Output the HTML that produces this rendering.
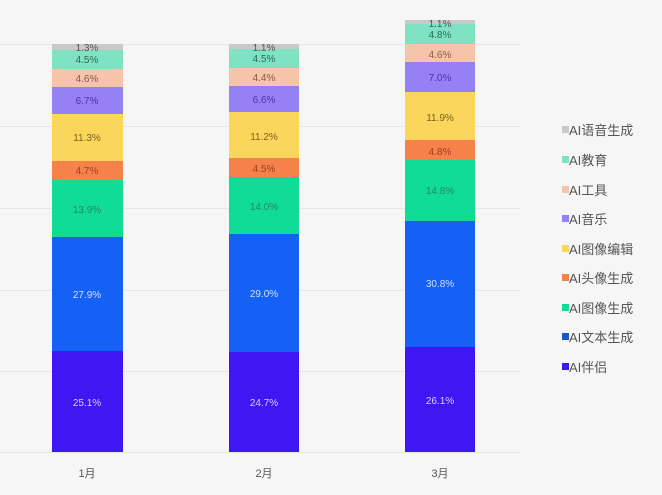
<!DOCTYPE html><html><head><meta charset="utf-8"><style>
body{margin:0;background:#f6f6f6;width:662px;height:490px;overflow:hidden;font-family:"Liberation Sans","Noto Sans CJK SC",sans-serif}
</style></head><body>
<svg width="662" height="490" xmlns="http://www.w3.org/2000/svg" font-family="Liberation Sans, Noto Sans CJK SC, sans-serif">
<rect width="662" height="490" fill="#f6f6f6"/>
<g stroke="#e6e6e6" stroke-width="1">
<line x1="0" x2="520" y1="44.5" y2="44.5"/><line x1="0" x2="520" y1="126.5" y2="126.5"/><line x1="0" x2="520" y1="208.5" y2="208.5"/><line x1="0" x2="520" y1="290.5" y2="290.5"/><line x1="0" x2="520" y1="371.5" y2="371.5"/><line x1="0" x2="520" y1="452.5" y2="452.5"/>
</g>
<g font-size="10" text-anchor="middle">
<rect x="52" y="44" width="71" height="6" fill="#c9c9c9"/>
<rect x="52" y="50" width="71" height="19" fill="#7fe2c2"/>
<rect x="52" y="69" width="71" height="18" fill="#f6c4aa"/>
<rect x="52" y="87" width="71" height="27" fill="#9580f5"/>
<rect x="52" y="114" width="71" height="47" fill="#fbd65c"/>
<rect x="52" y="161" width="71" height="19" fill="#f5814b"/>
<rect x="52" y="180" width="71" height="57" fill="#10dc98"/>
<rect x="52" y="237" width="71" height="114" fill="#1560f5"/>
<rect x="52" y="351" width="71" height="101" fill="#3e17f2"/>
<text x="87" y="51" fill="#555">1.3%</text><text x="87" y="63" fill="#2a6a55">4.5%</text><text x="87" y="82" fill="#8a5a45">4.6%</text><text x="87" y="104" fill="#4a35b0">6.7%</text><text x="87" y="141" fill="#7a6020">11.3%</text><text x="87" y="174" fill="#a04020">4.7%</text><text x="87" y="213" fill="#208a65">13.9%</text><text x="87" y="298" fill="#cfe0ff">27.9%</text><text x="87" y="406" fill="#d8d0ff">25.1%</text>
<rect x="229" y="44" width="70" height="5" fill="#c9c9c9"/>
<rect x="229" y="49" width="70" height="19" fill="#7fe2c2"/>
<rect x="229" y="68" width="70" height="18" fill="#f6c4aa"/>
<rect x="229" y="86" width="70" height="26" fill="#9580f5"/>
<rect x="229" y="112" width="70" height="46" fill="#fbd65c"/>
<rect x="229" y="158" width="70" height="19" fill="#f5814b"/>
<rect x="229" y="177" width="70" height="57" fill="#10dc98"/>
<rect x="229" y="234" width="70" height="118" fill="#1560f5"/>
<rect x="229" y="352" width="70" height="100" fill="#3e17f2"/>
<text x="264" y="51" fill="#555">1.1%</text><text x="264" y="62" fill="#2a6a55">4.5%</text><text x="264" y="81" fill="#8a5a45">4.4%</text><text x="264" y="103" fill="#4a35b0">6.6%</text><text x="264" y="140" fill="#7a6020">11.2%</text><text x="264" y="172" fill="#a04020">4.5%</text><text x="264" y="210" fill="#208a65">14.0%</text><text x="264" y="297" fill="#cfe0ff">29.0%</text><text x="264" y="406" fill="#d8d0ff">24.7%</text>
<rect x="405" y="20" width="70" height="4" fill="#c9c9c9"/>
<rect x="405" y="24" width="70" height="20" fill="#7fe2c2"/>
<rect x="405" y="44" width="70" height="18" fill="#f6c4aa"/>
<rect x="405" y="62" width="70" height="30" fill="#9580f5"/>
<rect x="405" y="92" width="70" height="48" fill="#fbd65c"/>
<rect x="405" y="140" width="70" height="20" fill="#f5814b"/>
<rect x="405" y="160" width="70" height="61" fill="#10dc98"/>
<rect x="405" y="221" width="70" height="126" fill="#1560f5"/>
<rect x="405" y="347" width="70" height="105" fill="#3e17f2"/>
<text x="440" y="27" fill="#555">1.1%</text><text x="440" y="38" fill="#2a6a55">4.8%</text><text x="440" y="58" fill="#8a5a45">4.6%</text><text x="440" y="81" fill="#4a35b0">7.0%</text><text x="440" y="121" fill="#7a6020">11.9%</text><text x="440" y="155" fill="#a04020">4.8%</text><text x="440" y="194" fill="#208a65">14.8%</text><text x="440" y="287" fill="#cfe0ff">30.8%</text><text x="440" y="404" fill="#d8d0ff">26.1%</text>
</g>
<g font-size="11" fill="#555" text-anchor="middle">
<text x="87" y="477">1月</text><text x="264" y="477">2月</text><text x="440" y="477">3月</text>
</g>
<g font-size="13" fill="#555">
<rect x="562" y="126" width="7" height="7" fill="#c9c9c9"/><text x="569" y="135">AI语音生成</text>
<rect x="562" y="156" width="7" height="7" fill="#7fe2c2"/><text x="569" y="165">AI教育</text>
<rect x="562" y="186" width="7" height="7" fill="#f6c4aa"/><text x="569" y="195">AI工具</text>
<rect x="562" y="215" width="7" height="7" fill="#9580f5"/><text x="569" y="224">AI音乐</text>
<rect x="562" y="245" width="7" height="7" fill="#fbd65c"/><text x="569" y="254">AI图像编辑</text>
<rect x="562" y="274" width="7" height="7" fill="#f5814b"/><text x="569" y="283">AI头像生成</text>
<rect x="562" y="304" width="7" height="7" fill="#10dc98"/><text x="569" y="313">AI图像生成</text>
<rect x="562" y="333" width="7" height="7" fill="#1f55c8"/><text x="569" y="342">AI文本生成</text>
<rect x="562" y="363" width="7" height="7" fill="#3e17f2"/><text x="569" y="372">AI伴侣</text>
</g>
</svg>
</body></html>
